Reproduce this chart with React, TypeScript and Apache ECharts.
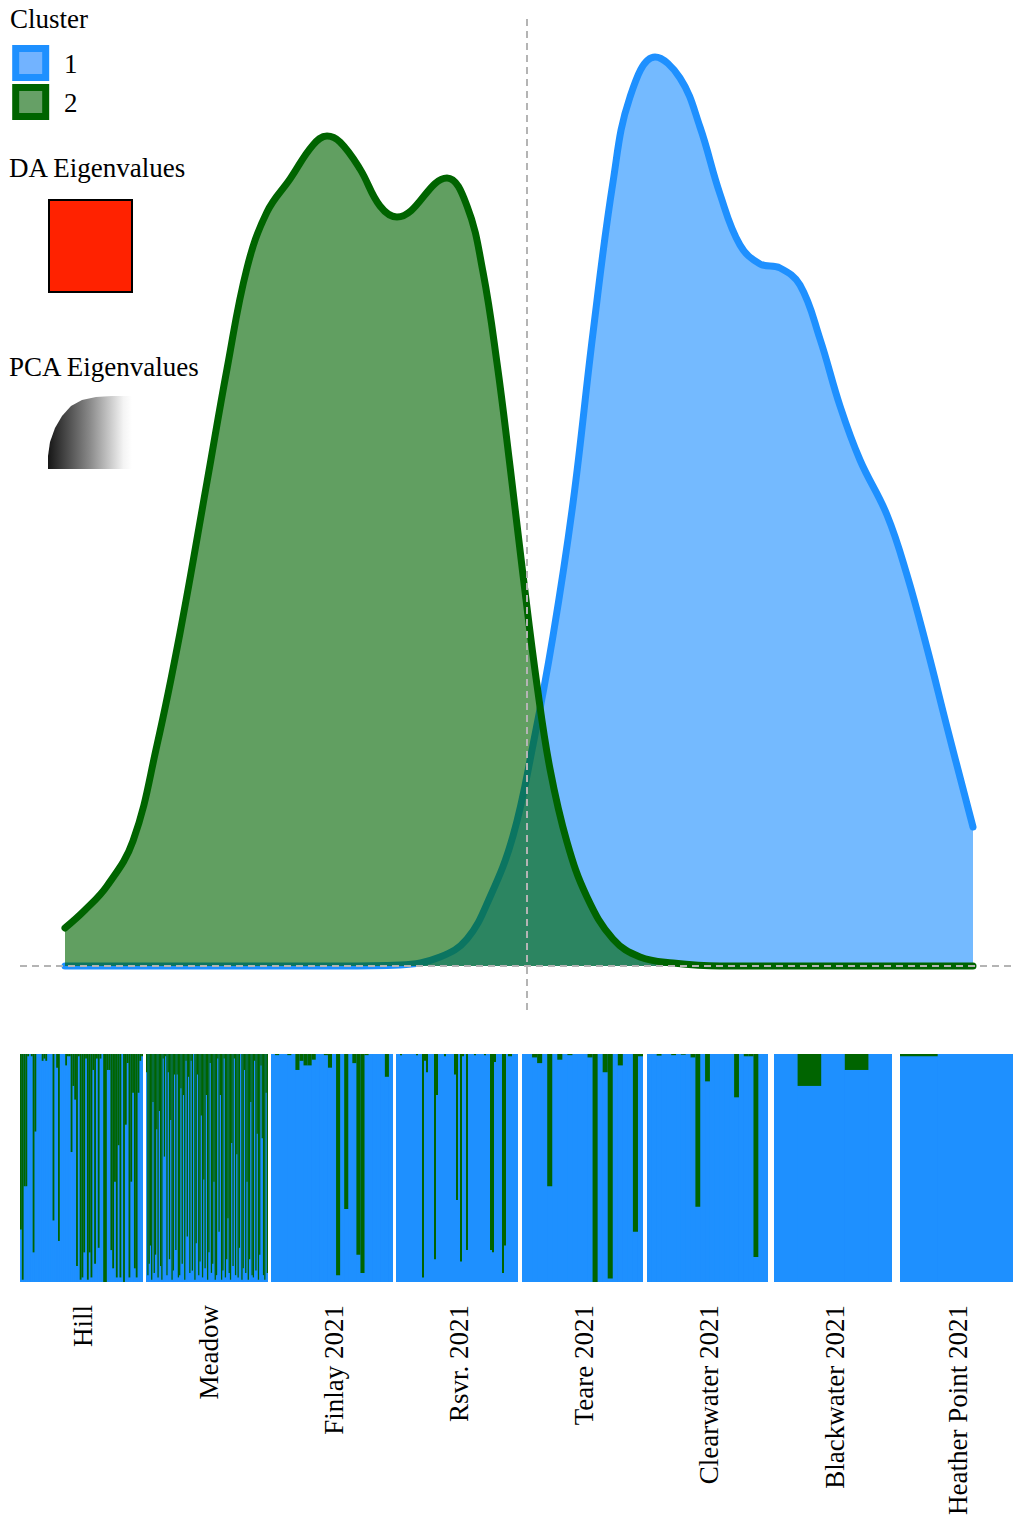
import React, { useEffect, useRef } from 'react';
import * as echarts from 'echarts';

// ---------- data ----------
const CLUSTERS = ['1', '2'];
const POPULATIONS = ['Hill', 'Meadow', 'Finlay 2021', 'Rsvr. 2021', 'Teare 2021', 'Clearwater 2021', 'Blackwater 2021', 'Heather Point 2021'];

// density of LD1 scores, cluster 1
const LD1_C1 = [-4.62, -3.27, -1.87, -1.27, -0.87, -0.6, -0.37, -0.14, 0.06, 0.26, 0.46, 0.66, 0.86, 1.03, 1.28, 1.53, 1.73, 1.93, 2.13, 2.33, 2.53, 2.73, 2.93, 3.13, 3.33, 3.6, 3.8, 4.0, 4.2, 4.46];
const DENS_C1 = [0, 0, 0, 0.0005, 0.0045, 0.0135, 0.0345, 0.065, 0.1105, 0.165, 0.2315, 0.3165, 0.392, 0.4345, 0.4545, 0.444, 0.4195, 0.386, 0.3605, 0.351, 0.349, 0.3405, 0.3135, 0.28, 0.253, 0.2255, 0.1955, 0.159, 0.1195, 0.0695];
// density of LD1 scores, cluster 2
const LD1_C2 = [-4.62, -4.42, -4.2, -3.94, -3.7, -3.47, -3.2, -3.0, -2.8, -2.6, -2.37, -2.14, -2.0, -1.87, -1.67, -1.47, -1.3, -0.8, -0.6, -0.44, -0.3, -0.17, -0.04, 0.1, 0.23, 0.4, 0.6, 0.86, 1.13, 1.46, 1.93, 2.5, 3.0, 3.5, 4.0, 4.46];
const DENS_C2 = [0.019, 0.028, 0.04, 0.0625, 0.1105, 0.1665, 0.242, 0.2985, 0.349, 0.377, 0.3935, 0.4105, 0.415, 0.412, 0.3985, 0.38, 0.3745, 0.394, 0.38, 0.347, 0.3015, 0.25, 0.1955, 0.1405, 0.0985, 0.062, 0.0345, 0.0135, 0.0045, 0.0015, 0, 0, 0, 0, 0, 0];

// membership probability in cluster 2, per individual
const Q2_HILL = [0.77, 0.99, 0.58, 0.58, 0.01, 0.0, 0.01, 0.87, 0.34, 0.0, 0.0, 0.0, 0.03, 0.02, 0.03, 0.0, 0.0, 0.0, 0.73, 0.0, 0.06, 0.82, 0.0, 0.0, 0.0, 0.05, 0.01, 0.01, 0.43, 0.14, 0.2, 0.93, 0.01, 0.99, 0.98, 0.87, 0.02, 0.99, 0.87, 0.98, 0.07, 0.92, 0.02, 0.85, 0.02, 0.0, 1.0, 1.0, 0.07, 0.07, 0.86, 0.94, 0.56, 0.98, 0.4, 0.98, 0.0, 1.0, 0.31, 0.04, 0.98, 0.56, 0.17, 0.94, 0.98, 0.17, 0.03, 0.01];
const Q2_MEADOW = [0.08, 0.97, 0.92, 0.84, 0.99, 0.21, 0.96, 0.88, 0.33, 0.98, 0.25, 0.93, 0.99, 0.02, 0.45, 0.01, 0.97, 0.08, 0.9, 0.29, 0.99, 0.95, 0.09, 0.86, 0.09, 0.98, 0.97, 0.15, 0.92, 0.18, 0.99, 0.03, 0.8, 0.1, 0.96, 0.03, 0.95, 0.0, 0.99, 0.83, 0.09, 0.97, 0.91, 0.27, 0.98, 0.55, 0.94, 0.18, 0.99, 0.87, 0.04, 0.96, 0.92, 0.56, 0.99, 0.97, 0.02, 0.78, 0.18, 0.99, 0.95, 0.02, 0.98, 0.9, 0.72, 0.96, 0.99, 0.39, 0.93, 0.02, 0.97, 0.44, 0.98, 0.85, 0.0, 0.99, 0.94, 0.07, 0.96, 0.56, 0.99, 0.9, 0.21, 0.97, 0.98, 0.03, 0.95, 0.35, 0.99, 0.88, 0.05, 0.37, 0.97, 0.99, 0.17, 0.96];
const Q2_FINLAY = [0, 0.005, 0, 0, 0.005, 0, 0.07, 0.03, 0.05, 0.05, 0.025, 0, 0, 0.005, 0.06, 0, 0.97, 0, 0.68, 0, 0.04, 0.88, 0.96, 0.005, 0, 0, 0, 0, 0.1, 0];
const Q2_RSVR = [0, 0, 0.005, 0, 0, 0, 0, 0, 0, 0, 0.005, 0, 0, 0.98, 0.03, 0.08, 0, 0, 0, 0.9, 0.18, 0, 0, 0, 0.01, 0, 0, 0, 0, 0.09, 0.64, 0, 0.91, 0.01, 0, 0.86, 0, 0, 0, 0.005, 0, 0, 0, 0, 0.005, 0, 0, 0.86, 0.87, 0.035, 0, 0, 0, 0.96, 0.84, 0, 0.01, 0.01, 0, 0, 0];
const Q2_TEARE = [0, 0, 0.015, 0.04, 0, 0.58, 0, 0.025, 0, 0.005, 0, 0, 0, 0.015, 1.0, 0, 0.08, 0.985, 0, 0.05, 0, 0, 0.78, 0.01];
const Q2_CLEARWATER = [0, 0, 0.007, 0, 0, 0.005, 0, 0.003, 0, 0.015, 0.67, 0, 0.12, 0, 0, 0, 0, 0, 0.19, 0, 0.01, 0.01, 0.89, 0, 0];
const Q2_BLACKWATER = [0, 0.14, 0, 0.07, 0];
const Q2_HEATHER = [0.01, 0, 0];
const Q2_BY_POP = [Q2_HILL, Q2_MEADOW, Q2_FINLAY, Q2_RSVR, Q2_TEARE, Q2_CLEARWATER, Q2_BLACKWATER, Q2_HEATHER];

// ---------- styles ----------
const LINE_COLORS = ['#1E90FF', '#006400'];
const FILL_COLORS = ['#72b3ff', '#66a066'];
const SERIF = '"Liberation Serif", "Times New Roman", serif';
const PANEL_LEFT = [20, 146, 271, 396, 522, 647, 774, 900];
const PANEL_RIGHT = [143, 268, 393, 518, 643, 768, 892, 1013];

export default function App() {
  const ref = useRef<HTMLDivElement>(null);

  useEffect(() => {
    if (!ref.current) return;
    const chart = echarts.init(ref.current, null, { renderer: 'svg' });

    const grids: any[] = [
      { left: 20, width: 993, top: 15, height: 995, show: false },
    ];
    const xAxes: any[] = [
      { gridIndex: 0, type: 'value', min: -5.07, max: 4.86, show: false },
    ];
    const yAxes: any[] = [
      { gridIndex: 0, type: 'value', min: -0.022, max: 0.4755, show: false },
    ];

    const densX = [LD1_C1, LD1_C2];
    const densY = [DENS_C1, DENS_C2];
    const series: any[] = CLUSTERS.map((name, i) => ({
      name,
      type: 'line',
      xAxisIndex: 0,
      yAxisIndex: 0,
      z: 2 + i,
      data: densX[i].map((x, j) => [x, densY[i][j]]),
      symbol: 'none',
      smooth: 0.4,
      lineStyle: { color: LINE_COLORS[i], width: 7, cap: 'round', join: 'round' },
      itemStyle: { color: LINE_COLORS[i] },
      areaStyle: { color: LINE_COLORS[i], opacity: 0.62 },
      silent: true,
      markLine: i === 1 ? {
        silent: true,
        symbol: ['none', 'none'],
        label: { show: false },
        lineStyle: { type: [7, 5], color: '#b4b4b4', width: 2 },
        data: [{ xAxis: 0 }, { yAxis: 0 }],
      } : undefined,
    }));

    Q2_BY_POP.forEach((q2, k) => {
      const gi = k + 1;
      grids.push({
        left: PANEL_LEFT[k],
        width: PANEL_RIGHT[k] - PANEL_LEFT[k],
        top: 1054,
        height: 228,
        show: true,
        backgroundColor: LINE_COLORS[0],
        borderWidth: 0,
      });
      xAxes.push({ gridIndex: gi, type: 'category', data: q2.map((_, j) => String(j + 1)), show: false });
      yAxes.push({ gridIndex: gi, type: 'value', min: 0, max: 1, show: false });
      series.push({
        name: POPULATIONS[k] + ' / 1',
        type: 'bar',
        xAxisIndex: gi,
        yAxisIndex: gi,
        stack: 'q' + k,
        barCategoryGap: '0%',
        data: q2.map((v) => +(1 - v).toFixed(4)),
        itemStyle: { color: LINE_COLORS[0] },
        silent: true,
      });
      series.push({
        name: POPULATIONS[k] + ' / 2',
        type: 'bar',
        xAxisIndex: gi,
        yAxisIndex: gi,
        stack: 'q' + k,
        barCategoryGap: '0%',
        data: q2,
        itemStyle: { color: LINE_COLORS[1] },
        silent: true,
      });
    });

    const graphics: any[] = [
      { type: 'text', x: 10, y: 19, style: { text: 'Cluster', font: `27px ${SERIF}`, fill: '#000', verticalAlign: 'middle' } },
      ...CLUSTERS.map((c, i) => ({
        type: 'group',
        children: [
          { type: 'rect', shape: { x: 15.7, y: 48.5 + i * 39, width: 30, height: 29 }, style: { fill: FILL_COLORS[i], stroke: LINE_COLORS[i], lineWidth: 7 } },
          { type: 'text', x: 64, y: 64 + i * 39, style: { text: c, font: `27px ${SERIF}`, fill: '#000', verticalAlign: 'middle' } },
        ],
      })),
      { type: 'text', x: 9, y: 168, style: { text: 'DA Eigenvalues', font: `27px ${SERIF}`, fill: '#000', verticalAlign: 'middle' } },
      { type: 'rect', shape: { x: 49, y: 200, width: 83, height: 92 }, style: { fill: '#ff2200', stroke: '#000', lineWidth: 2 } },
      { type: 'text', x: 9, y: 367, style: { text: 'PCA Eigenvalues', font: `27px ${SERIF}`, fill: '#000', verticalAlign: 'middle' } },
      {
        type: 'polygon',
        shape: {
          points: [[48, 469], [48, 456], [50, 442], [55, 428], [62, 416], [71, 406], [82, 400], [96, 397], [112, 396], [132, 396], [132, 469]],
        },
        style: {
          fill: new echarts.graphic.LinearGradient(0, 0, 1, 0, [
            { offset: 0, color: '#161616' },
            { offset: 0.5, color: '#8a8a8a' },
            { offset: 0.9, color: '#f4f4f4' },
            { offset: 1, color: '#ffffff' },
          ]),
        },
      },
      ...POPULATIONS.map((p, k) => ({
        type: 'text',
        x: (PANEL_LEFT[k] + PANEL_RIGHT[k]) / 2 + 1.5,
        y: 1305,
        rotation: Math.PI / 2,
        style: { text: p, font: `27px ${SERIF}`, fill: '#000', align: 'right', verticalAlign: 'middle' },
      })),
    ];

    chart.setOption({
      animation: false,
      backgroundColor: '#ffffff',
      grid: grids,
      xAxis: xAxes,
      yAxis: yAxes,
      series,
      graphic: graphics,
    });

    return () => chart.dispose();
  }, []);

  return <div ref={ref} style={{ position: 'absolute', left: 0, top: 0, width: 1013, height: 1521 }} />;
}
